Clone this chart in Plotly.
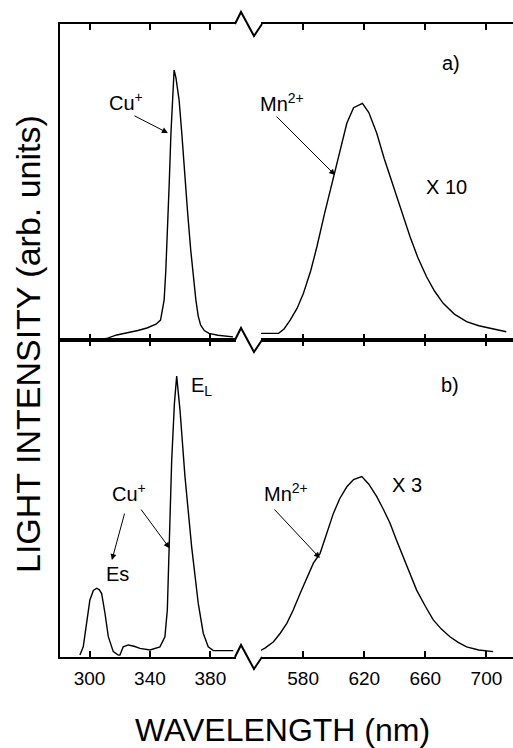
import plotly.graph_objects as go

# ---------------- data ----------------
# panel a) UV part (Cu+ emission)
wl_a_uv = [305, 312, 318, 325, 332, 338, 344, 347, 349.4, 350.5, 351.6, 352.8, 353.9,
           355.0, 356.0, 357.2, 359.3, 361.0, 362.6, 365.0, 367.0, 368.8, 370.4, 372.0,
           373.6, 376.0, 379.1, 385.0, 395.0]
int_a_uv = [0.0, 0.006, 0.016, 0.022, 0.03, 0.038, 0.05, 0.063, 0.127, 0.22, 0.338, 0.5,
            0.654, 0.78, 0.854, 0.83, 0.76, 0.66, 0.549, 0.40, 0.285, 0.20, 0.127, 0.075,
            0.047, 0.030, 0.021, 0.015, 0.010]
# panel a) visible part (Mn2+ emission, x10)
wl_a_vis = [552, 558, 563.9, 567.5, 571.5, 576, 580.2, 585, 589, 594, 599.8, 604,
            608.6, 613, 618.8, 623, 628.2, 633, 639.1, 644, 650, 655, 660.8, 666,
            671.7, 679, 687, 695, 702.2, 708, 713]
int_a_vis = [0.021, 0.021, 0.021, 0.035, 0.063, 0.10, 0.148, 0.22, 0.295, 0.40, 0.517,
             0.60, 0.686, 0.735, 0.749, 0.72, 0.654, 0.575, 0.485, 0.41, 0.327, 0.262,
             0.20, 0.155, 0.116, 0.082, 0.058, 0.045, 0.037, 0.030, 0.026]
# panel b) UV part (Es and EL emission)
wl_b_uv = [293.6, 295.8, 298.0, 300.2, 302.5, 304.7, 306.5, 308.0, 310.2, 312.4, 315.7,
           319.0, 320.1, 322.3, 325.6, 329.5, 333.4, 340.0, 346.6, 349.9, 351.5, 352.8,
           354.4, 356.2, 357.7, 359.9, 363.2, 367.6, 372.0, 375.3, 378.6, 382.0, 395.2]
int_b_uv = [0.006, 0.032, 0.106, 0.18, 0.21, 0.217, 0.212, 0.20, 0.138, 0.064, 0.017,
            0.006, 0.006, 0.032, 0.038, 0.034, 0.027, 0.022, 0.032, 0.064, 0.148, 0.348,
            0.621, 0.80, 0.886, 0.779, 0.569, 0.348, 0.169, 0.075, 0.032, 0.020, 0.020]
# panel b) visible part (Mn2+ emission, x3)
wl_b_vis = [550.8, 555, 560.6, 565, 569.3, 573.5, 578, 582.5, 586.7, 591.1, 595.5,
            599.8, 604, 608.6, 613, 618.4, 623, 628.2, 632.5, 636.9, 641, 645.6, 650,
            654.3, 660, 665.2, 670.5, 676.1, 681.5, 687, 695, 704.4]
int_b_vis = [0.017, 0.028, 0.048, 0.075, 0.106, 0.148, 0.20, 0.25, 0.296, 0.327, 0.39,
             0.453, 0.50, 0.537, 0.560, 0.569, 0.545, 0.506, 0.466, 0.422, 0.37, 0.316,
             0.262, 0.211, 0.160, 0.117, 0.088, 0.064, 0.046, 0.032, 0.022, 0.017]

uv_ticks = [300, 340, 380]
vis_ticks = [580, 620, 660, 700]
uv_range = [280.4, 397.0]
vis_range = [552.4, 717.4]

# ---------------- layout geometry ----------------
W, H = 513, 748
ML, MR, MT, MB = 60, 0, 24, 91
PW, PH = W - ML - MR, H - MT - MB
X_BREAK_L, X_BREAK_R = 236, 261      # pixel edges of the axis break
Y_MID = 340                          # pixel row of the shared middle axis


def px_x(px):
    return (px - ML) / PW


def px_y(py):
    return (H - MB - py) / PH


dom_left = [0, px_x(X_BREAK_L)]
dom_right = [px_x(X_BREAK_R), 1]
dom_top = [px_y(Y_MID), 1]
dom_bot = [0, px_y(Y_MID)]

FONT = "Liberation Sans, Arial, sans-serif"
LINE = dict(color="black", width=1.4)

fig = go.Figure()
fig.add_trace(go.Scatter(x=wl_a_uv, y=int_a_uv, mode="lines", line=LINE, xaxis="x", yaxis="y"))
fig.add_trace(go.Scatter(x=wl_a_vis, y=int_a_vis, mode="lines", line=LINE, xaxis="x2", yaxis="y2"))
fig.add_trace(go.Scatter(x=wl_b_uv, y=int_b_uv, mode="lines", line=LINE, xaxis="x3", yaxis="y3"))
fig.add_trace(go.Scatter(x=wl_b_vis, y=int_b_vis, mode="lines", line=LINE, xaxis="x4", yaxis="y4"))

xcommon = dict(showline=True, linecolor="black", linewidth=2, mirror="ticks",
               ticks="inside", ticklen=6, tickwidth=1.5, tickcolor="black",
               showgrid=False, zeroline=False, fixedrange=True)
ycommon = dict(range=[0, 1], showgrid=False, zeroline=False, showticklabels=False,
               ticks="", fixedrange=True)

fig.update_layout(
    width=W, height=H,
    margin=dict(l=ML, r=MR, t=MT, b=MB),
    paper_bgcolor="white", plot_bgcolor="white",
    showlegend=False,
    font=dict(family=FONT, color="black"),
    xaxis=dict(xcommon, domain=dom_left, range=uv_range, tickvals=uv_ticks,
               showticklabels=False, anchor="y"),
    xaxis2=dict(xcommon, domain=dom_right, range=vis_range, tickvals=vis_ticks,
                showticklabels=False, anchor="y2"),
    xaxis3=dict(xcommon, domain=dom_left, range=uv_range, tickvals=uv_ticks,
                showticklabels=True, anchor="y3", ticklabelstandoff=3,
                tickfont=dict(size=19, family=FONT)),
    xaxis4=dict(xcommon, domain=dom_right, range=vis_range, tickvals=vis_ticks,
                showticklabels=True, anchor="y4", ticklabelstandoff=3,
                tickfont=dict(size=19, family=FONT)),
    yaxis=dict(ycommon, domain=dom_top, anchor="x", showline=True, linecolor="black", linewidth=2),
    yaxis2=dict(ycommon, domain=dom_top, anchor="x2", showline=False),
    yaxis3=dict(ycommon, domain=dom_bot, anchor="x3", showline=True, linecolor="black", linewidth=2),
    yaxis4=dict(ycommon, domain=dom_bot, anchor="x4", showline=False),
)

# ---------------- axis break zigzags ----------------
for row_y in (MT, Y_MID, H - MB):
    pts = [(X_BREAK_L - 1, row_y), (X_BREAK_L + 5, row_y - 12),
           (X_BREAK_L + 18, row_y + 12), (X_BREAK_R + 1, row_y)]
    path = "M " + " L ".join(f"{px_x(a):.5f},{px_y(b):.5f}" for a, b in pts)
    fig.add_shape(type="path", path=path, xref="paper", yref="paper",
                  line=dict(color="black", width=2))

# ---------------- annotations ----------------
TF = dict(size=20, family=FONT, color="black")


def label(text, x, y, xr, yr, size=20):
    fig.add_annotation(text=text, x=x, y=y, xref=xr, yref=yr, showarrow=False,
                       font=dict(TF, size=size), xanchor="center", yanchor="middle")


def arrow(x0, y0, x1, y1, xr, yr):
    fig.add_annotation(text="", x=x1, y=y1, ax=x0, ay=y0, xref=xr, yref=yr,
                       axref=xr, ayref=yr, showarrow=True, arrowhead=2,
                       arrowsize=1.2, arrowwidth=1, arrowcolor="black")


# panel a)
label("Cu<sup>+</sup>", 324.0, 0.755, "x", "y")
arrow(328.7, 0.712, 351.9, 0.655, "x", "y")
label("Mn<sup>2+</sup>", 566.0, 0.752, "x2", "y2")
arrow(561.6, 0.712, 600.9, 0.522, "x2", "y2")
label("a)", 677.0, 0.877, "x2", "y2")
label("X 10", 674.0, 0.484, "x2", "y2")

# panel b)
label("E<sub>L</sub>", 374.0, 0.852, "x3", "y3")
label("b)", 676.0, 0.858, "x4", "y4")
label("Cu<sup>+</sup>", 326.0, 0.52, "x3", "y3")
arrow(323.4, 0.457, 314.8, 0.306, "x3", "y3")
arrow(333.4, 0.47, 353.0, 0.343, "x3", "y3")
label("Es", 318.5, 0.262, "x3", "y3")
label("Mn<sup>2+</sup>", 569.0, 0.518, "x4", "y4")
arrow(560.3, 0.47, 591.0, 0.312, "x4", "y4")
label("X 3", 648.3, 0.543, "x4", "y4")

# axis titles
fig.add_annotation(text="LIGHT INTENSITY (arb. units)", x=px_x(28), y=px_y(344),
                   xref="paper", yref="paper", showarrow=False, textangle=-90,
                   font=dict(size=34, family=FONT, color="black"),
                   xanchor="center", yanchor="middle")
fig.add_annotation(text="WAVELENGTH (nm)", x=px_x(282), y=px_y(730),
                   xref="paper", yref="paper", showarrow=False,
                   font=dict(size=32, family=FONT, color="black"),
                   xanchor="center", yanchor="middle")

fig.write_html("out.html",
               config={"displayModeBar": False},
               post_script="document.body.style.margin='0';"
                           "document.body.style.overflow='hidden';")
